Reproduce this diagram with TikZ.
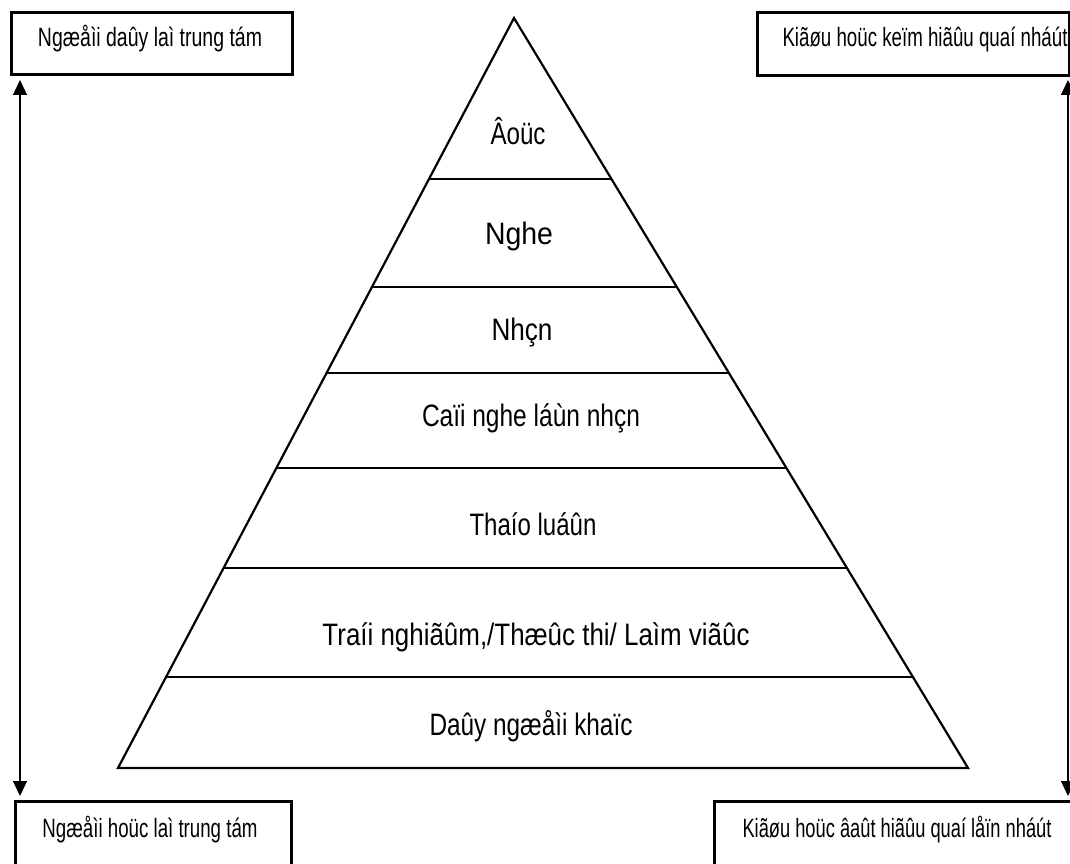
\documentclass[tikz,border=0pt]{standalone}
\usepackage{fontspec}
\setmainfont{Liberation Sans}
\usetikzlibrary{arrows.meta,calc}
\newcommand\fitw[2]{\resizebox{#1pt}{\height}{#2}}
\begin{document}
\begin{tikzpicture}[x=1pt,y=-1pt,
  box/.style={draw,line width=3pt,minimum width=#1,anchor=north west,inner sep=0pt},
  lab/.style={anchor=base,inner sep=0pt,font=\fontsize{26.5}{26.5}\selectfont},
  plab/.style={anchor=base,inner sep=0pt,font=\fontsize{31}{31}\selectfont},
  tri/.style={line width=2.2pt},
  arr/.style={line width=1.3pt,{Triangle[width=14pt,length=15pt]}-{Triangle[width=14pt,length=15pt]}}]
\useasboundingbox (0,0) rectangle (1070,864);
\clip (0,0) rectangle (1070,864);
% boxes
\node[box=281pt,minimum height=62pt] (tl) at (10,11) {};
\node[box=312pt,minimum height=63pt] (tr) at (756,11) {};
\node[box=276pt,minimum height=80pt] (bl) at (14,800) {};
\node[box=380pt,minimum height=80pt] (br) at (713,800) {};
% box texts
\node[lab] (tlt) at (150,47) {\fitw{224}{Ngæåìi daûy laì trung tám}};
\node[lab] (trt) at (925,47) {\fitw{285}{Kiãøu hoüc keïm hiãûu quaí nháút}};
\node[lab] (blt) at (150,837) {\fitw{215}{Ngæåìi hoüc laì trung tám}};
\node[lab] (brt) at (897,837) {\fitw{309}{Kiãøu hoüc âaût hiãûu quaí låïn nháút}};
% arrows
\coordinate (la) at ($(tl.south west)+(10,4)$);
\coordinate (lb) at ($(bl.north west)+(6,-4)$);
\coordinate (ra) at ($(tr.south east)+(-3,3)$);
\coordinate (rb) at (ra |- lb);
\draw[arr] (la) -- (lb);
\draw[arr] (ra) -- (rb);
% pyramid
\coordinate (apex) at (514,18);
\coordinate (bl0) at (118,768);
\coordinate (br0) at (968,768);
\draw[tri,line join=miter] (bl0) -- (apex) -- (br0) -- cycle;
\foreach \t in {0.2147,0.3587,0.4733,0.6,0.7333,0.8787}
  \draw[tri] ($(apex)!\t!(bl0)$) -- ($(apex)!\t!(br0)$);
% pyramid labels
\node[plab] (p1) at (518,145) {\fitw{55}{Âoüc}};
\node[plab] (p2) at (519,244) {\fitw{68}{Nghe}};
\node[plab] (p3) at (522,340) {\fitw{61}{Nhçn}};
\node[plab] (p4) at (531,426) {\fitw{218}{Caïi nghe láùn nhçn}};
\node[plab] (p5) at (533,535) {\fitw{127}{Thaío luáûn}};
\node[plab] (p6) at (536,645) {\fitw{427}{Traíi nghiãûm,/Thæûc thi/ Laìm viãûc}};
\node[plab] (p7) at (531,735) {\fitw{203}{Daûy ngæåìi khaïc}};
\end{tikzpicture}
\end{document}
